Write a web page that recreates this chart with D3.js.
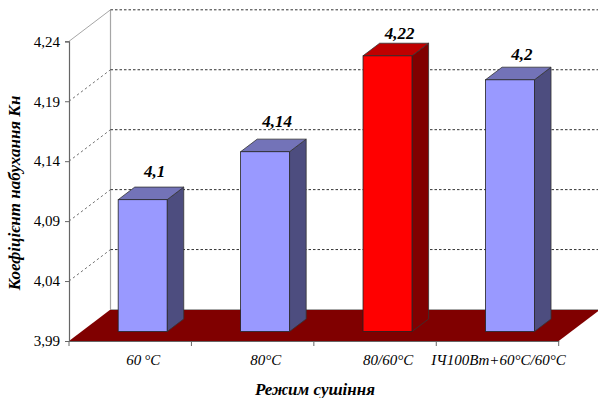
<html lang="en"><head>
<meta http-equiv="Content-Type" content="text/html; charset=UTF-8">
<title>Chart</title>
<script type="text/javascript" src="https://cdn.jsdelivr.net/npm/d3@7"></script>
<style type="text/css">
html, body { margin: 0; padding: 0; background: #fff; overflow: hidden; }
svg { display: block; }
text { font-family: "Liberation Serif", serif; fill: #000; }
</style>
</head>
<body>

<script type="text/javascript">

var categories = ["60\u2009°C", "80°C", "80/60°C", "ІЧ100Вт+60°C/60°C"];
var values = [4.1, 4.14, 4.22, 4.2];
var valueLabels = ["4,1", "4,14", "4,22", "4,2"];
var yTicks = [3.99, 4.04, 4.09, 4.14, 4.19, 4.24];
var highlighted = ["80/60°C"];

var width = 598;
var height = 398;

// front plane of the box
var left = 69, right = 558.7, top_ = 41.3, bottom = 341;
// depth of the box, and where the bars stand inside it
var depthX = 41.5, depthY = -31.5;
var barFront = 0.3, barDepth = 0.4;

var svg = d3.select("body").append("svg")
  .attr("width", width)
  .attr("height", height);

var x = d3.scaleBand().domain(categories).range([left, right]);
var y = d3.scaleLinear().domain([3.99, 4.24]).range([bottom, top_]);

function fmt(v){ return d3.format(".2f")(v).replace(".", ","); }

// back wall
svg.append("line")
  .attr("x1", left + depthX).attr("x2", left + depthX)
  .attr("y1", y(4.24) + depthY).attr("y2", y(3.99) + depthY)
  .attr("stroke", "#a6a6a6").attr("stroke-width", 1.2);

// grid on the wall and the side
yTicks.slice(1).forEach(function(t){
  var solid = t == 4.24;
  svg.append("line")
    .attr("x1", left).attr("y1", y(t))
    .attr("x2", left + depthX).attr("y2", y(t) + depthY)
    .attr("stroke", solid ? "#a6a6a6" : "#777")
    .attr("stroke-width", 1)
    .attr("stroke-dasharray", solid ? null : "2.5,2.5");
  svg.append("line")
    .attr("x1", left + depthX).attr("y1", y(t) + depthY)
    .attr("x2", width).attr("y2", y(t) + depthY)
    .attr("stroke", "#333")
    .attr("stroke-width", 1)
    .attr("stroke-dasharray", "2.5,2");
});

// floor
var floor = [[left, bottom], [left + depthX, bottom + depthY], [right + depthX, bottom + depthY], [right, bottom]];
svg.append("polygon")
  .attr("points", floor.join(" "))
  .attr("fill", "#800000");
svg.append("line")
  .attr("x1", left + depthX).attr("x2", right + depthX)
  .attr("y1", bottom + depthY).attr("y2", bottom + depthY)
  .attr("stroke", "#a6a6a6").attr("stroke-width", 1);

// bars
var barW = x.bandwidth() * 0.4;
var dx = depthX * barFront, dy = depthY * barFront;
var sx = depthX * barDepth, sy = depthY * barDepth;
// labels are not quite the same distance above each bar
var labelNudge = [-1, -3, 5, 2];

var bars = svg.selectAll(".bar")
  .data(categories.map(function(c, i){ return {cat: c, value: values[i], label: valueLabels[i], nudge: labelNudge[i]}; }))
  .enter().append("g")
  .attr("class", "bar");

function x0(d){ return x(d.cat) + dx + (x.bandwidth() - barW) / 2; }
function isRed(d){ return highlighted.indexOf(d.cat) != -1; }

bars.append("polygon")
  .attr("fill", function(d){ return isRed(d) ? "#800000" : "#4d4d7f"; })
  .attr("stroke", "#333").attr("stroke-width", 0.8)
  .attr("points", function(d){
    var a = x0(d) + barW, t = y(d.value) + dy, b = y(3.99) + dy;
    return [[a, t], [a + sx, t + sy], [a + sx, b + sy], [a, b]].join(" ");
  });

bars.append("polygon")
  .attr("fill", function(d){ return isRed(d) ? "#bf0000" : "#7373b8"; })
  .attr("stroke", "#333").attr("stroke-width", 0.8)
  .attr("points", function(d){
    var a = x0(d), t = y(d.value) + dy;
    return [[a, t], [a + sx, t + sy], [a + barW + sx, t + sy], [a + barW, t]].join(" ");
  });

bars.append("rect")
  .attr("fill", function(d){ return isRed(d) ? "#ff0000" : "#9999ff"; })
  .attr("stroke", "#222").attr("stroke-width", 0.8)
  .attr("x", x0)
  .attr("y", function(d){ return y(d.value) + dy; })
  .attr("width", barW)
  .attr("height", function(d){ return y(3.99) - y(d.value); });

bars.append("text")
  .attr("text-anchor", "middle")
  .attr("font-size", 17)
  .attr("font-weight", "bold")
  .attr("font-style", "italic")
  .attr("x", function(d){ return x0(d) + barW / 2 + 12; })
  .attr("y", function(d){ return y(d.value) + dy - 22 + d.nudge; })
  .text(function(d){ return d.label; });

// axes
var yAxis = d3.axisLeft(y).tickValues(yTicks).tickFormat(fmt).tickSize(4).tickPadding(5);
var gy = svg.append("g").attr("transform", "translate(" + left + ",0)").call(yAxis);
gy.select(".domain").attr("stroke", "#666").attr("stroke-width", 1.2);
gy.selectAll(".tick line").attr("stroke", "#666");
gy.selectAll("text").attr("font-size", 15).attr("font-family", '"Liberation Serif", serif').attr("fill", "#222");

var xAxis = d3.axisBottom(x).tickSize(0).tickPadding(13).tickSizeOuter(0);
var gx = svg.append("g").attr("transform", "translate(0," + bottom + ")").call(xAxis);
gx.select(".domain").attr("stroke", "#666").attr("stroke-width", 1.2);
gx.selectAll("text")
  .attr("font-size", 15)
  .attr("font-style", "italic")
  .attr("font-family", '"Liberation Serif", serif')
  .attr("fill", "#222")
  .attr("dx", function(d, i){ return i == 3 ? 1 : 13; });

// ticks sit between the categories
d3.range(categories.length + 1).forEach(function(i){
  var tx = left + i * x.step();
  svg.append("line")
    .attr("x1", tx).attr("x2", tx)
    .attr("y1", bottom).attr("y2", bottom + 5)
    .attr("stroke", "#666").attr("stroke-width", 1);
});

svg.append("text")
  .attr("x", 315).attr("y", 395)
  .attr("text-anchor", "middle")
  .attr("font-size", 17).attr("font-weight", "bold").attr("font-style", "italic")
  .text("Режим сушіння");

svg.append("text")
  .attr("transform", "translate(20,193) rotate(-90)")
  .attr("text-anchor", "middle")
  .attr("font-size", 17).attr("font-weight", "bold").attr("font-style", "italic")
  .text("Коефіцієнт набухання Кн");

</script>
</body></html>
